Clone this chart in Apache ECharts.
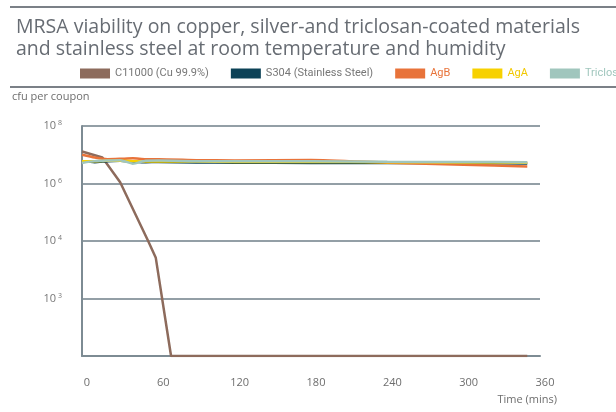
<!DOCTYPE html>
<html>
<head>
<meta charset="utf-8">
<script src="https://cdn.jsdelivr.net/npm/echarts@6/dist/echarts.min.js"></script>
<style>
  html, body { margin: 0; padding: 0; background: #fff; }
  #main { width: 616px; height: 412px; }
</style>
</head>
<body>
<div id="main"></div>
<script>
// series names as in the legend
var seriesNames = ['C11000 (Cu 99.9%)', 'S304 (Stainless Steel)', 'AgB', 'AgA', 'Triclosan'];
var seriesColors = ['#8d6b5c', '#0c4257', '#e8733a', '#f7d100', '#a0c6bd'];

// time (mins) / cfu per coupon
var cuTime = [0, 16, 30, 52, 58, 70, 350];
var cuCfu = [1.3e7, 8e6, 1.1e6, 1e4, 2.6e3, 1, 1];

var flatTime = [0, 10, 20, 30, 40, 50, 60, 90, 120, 180, 240, 300, 350];
var ssCfu = [6e6, 5.5e6, 6e6, 6.2e6, 5.8e6, 5.5e6, 5.6e6, 5.4e6, 5.3e6, 5.2e6, 5.2e6, 5.1e6, 5e6];
var agbCfu = [1e7, 8e6, 7e6, 7.2e6, 7.5e6, 7e6, 7e6, 6.5e6, 6.3e6, 6.6e6, 5.3e6, 4.5e6, 3.9e6];
var agaCfu = [6e6, 6e6, 6.2e6, 6.2e6, 6e6, 5.8e6, 5.8e6, 5.8e6, 5.6e6, 5.6e6, 5.5e6, 5.4e6, 5.3e6];
var triCfu = [5.2e6, 6e6, 6.3e6, 6.5e6, 4.9e6, 6.2e6, 6.3e6, 6e6, 5.9e6, 5.9e6, 5.7e6, 5.6e6, 5.5e6];

// y ticks (log base 100) and their printed labels
var yTickValues = [1, 1e2, 1e4, 1e6, 1e8];
var yTickLabels = ['', '10{s|3}', '10{s|4}', '10{s|6}', '10{s|8}'];

function pairs(xs, ys) {
    return xs.map(function (x, i) { return [x, ys[i]]; });
}

var chart = echarts.init(document.getElementById('main'));
var seriesData = [
    pairs(cuTime, cuCfu),
    pairs(flatTime, ssCfu),
    pairs(flatTime, agbCfu),
    pairs(flatTime, agaCfu),
    pairs(flatTime, triCfu)
];
var legendTextColors = ['#777', '#777', '#e8733a', '#f2c800', '#a0c6bd'];

var option = {
    animation: false,
    textStyle: { fontFamily: 'Open Sans' },
    title: {
        text: 'MRSA viability on copper, silver-and triclosan-coated materials\nand stainless steel at room temperature and humidity',
        left: 11,
        top: 11,
        textStyle: {
            color: '#676c73',
            fontSize: 19.5,
            fontWeight: 'normal',
            lineHeight: 22,
            fontFamily: 'Open Sans'
        }
    },
    legend: {
        left: 75,
        top: 63,
        width: 900,
        itemWidth: 30,
        itemHeight: 10,
        itemGap: 22,
        icon: 'rect',
        textStyle: { fontSize: 11, fontFamily: 'Roboto' },
        data: seriesNames.map(function (n, i) {
            return { name: n, textStyle: { color: legendTextColors[i] } };
        })
    },
    grid: { left: 82, top: 126, right: 76, bottom: 56 },
    xAxis: {
        type: 'value',
        min: 0,
        max: 360,
        interval: 60,
        axisLine: { show: true, lineStyle: { color: '#7d8b93', width: 2 } },
        axisTick: { show: false },
        splitLine: { show: false },
        axisLabel: { color: '#6e6e6e', fontSize: 11, margin: 21, padding: [0, 0, 0, 10] }
    },
    yAxis: {
        type: 'log',
        logBase: 100,
        min: 1,
        max: 1e8,
        axisLine: { show: true, lineStyle: { color: '#7d8b93', width: 2 } },
        axisTick: { show: false },
        splitLine: { show: true, lineStyle: { color: '#6f7f89', width: 1.5 } },
        axisLabel: {
            margin: 20,
            color: '#777',
            fontSize: 11,
            formatter: function (v) {
                var k = yTickValues.indexOf(v);
                if (k < 0) k = Math.round(Math.log10(v) / 2);
                return yTickLabels[k] || '';
            },
            rich: { s: { fontSize: 7, verticalAlign: 'top', padding: [0, 0, 6, 2], color: '#777' } }
        }
    },
    graphic: [
        { type: 'line', shape: { x1: 10, y1: 7, x2: 616, y2: 7 }, style: { stroke: '#7b8087', lineWidth: 2 } },
        { type: 'line', shape: { x1: 10, y1: 87, x2: 616, y2: 87 }, style: { stroke: '#7b8087', lineWidth: 2 } },
        { type: 'text', left: 12, top: 91, style: { text: 'cfu per coupon', fill: '#6e6e6e', font: '11px "Open Sans"' } },
        { type: 'text', right: 59, top: 394, style: { text: 'Time (mins)', fill: '#6e6e6e', font: '11px "Open Sans"' } }
    ],
    series: seriesData.map(function (d, i) {
        return {
            name: seriesNames[i],
            type: 'line',
            data: d,
            symbol: 'none',
            smooth: i === 0 ? false : 0.2,
            color: seriesColors[i],
            lineStyle: { width: 2.5, color: seriesColors[i] }
        };
    })
};
chart.setOption(option);
</script>
</body>
</html>
